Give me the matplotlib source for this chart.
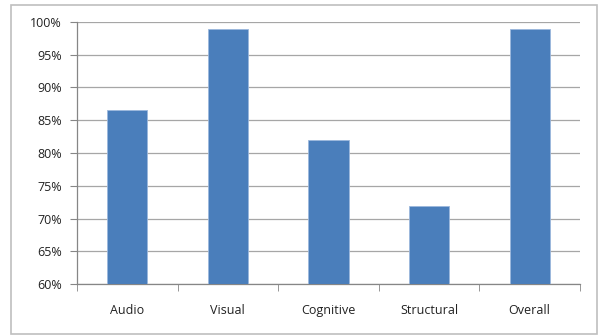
import numpy as np
import matplotlib.pyplot as plt
from matplotlib.patches import Rectangle
from matplotlib.ticker import FixedLocator, NullFormatter

categories = ['Audio', 'Visual', 'Cognitive', 'Structural', 'Overall']
scores = [86.6, 98.9, 82.0, 71.9, 98.9]   # percent

plt.rcParams['font.family'] = ['Open Sans', 'DejaVu Sans']

fig = plt.figure(figsize=(6.06, 3.36), dpi=100)
ax = fig.add_axes([0.127, 0.154, 0.83, 0.781])

x = np.arange(len(categories))
ax.bar(x, scores, width=0.4, color='#4a7ebb', edgecolor='#9bb7dd', linewidth=0.6, zorder=3)

ax.set_ylim(60, 100)
ax.set_xlim(-0.5, len(categories) - 0.5)
ax.set_yticks(np.arange(60, 101, 5))
ax.set_yticklabels([f'{v}%' for v in range(60, 101, 5)], fontsize=9, color='#222222')
ax.yaxis.grid(True, color='#a6a6a6', linewidth=0.9, zorder=0)

# category labels at centres, tick marks between categories
ax.set_xticks(x)
ax.set_xticklabels(categories, fontsize=9, color='#222222')
ax.tick_params(axis='x', length=0, pad=14)
ax.xaxis.set_minor_locator(FixedLocator(np.arange(-0.5, len(categories), 1)))
ax.xaxis.set_minor_formatter(NullFormatter())
ax.tick_params(axis='x', which='minor', length=5, color='#868686', direction='out')
ax.tick_params(axis='y', length=5, color='#868686', pad=6)

for s in ['top', 'right']:
    ax.spines[s].set_visible(False)
for s in ['left', 'bottom']:
    ax.spines[s].set_color('#868686')
    ax.spines[s].set_linewidth(0.9)

# outer chart border
fig.patches.append(Rectangle((11 / 606, 2 / 336), 586 / 606, 329 / 336, transform=fig.transFigure,
                             fill=False, edgecolor='#bfbfbf', linewidth=1.2))

plt.savefig('out.png', dpi=100)
